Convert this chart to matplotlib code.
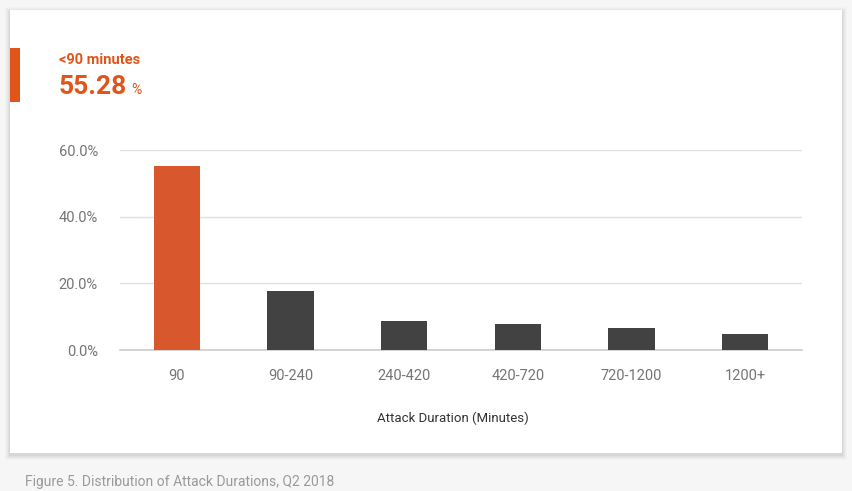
import numpy as np
import matplotlib.pyplot as plt
from matplotlib.patches import Rectangle

# values
categories = ["90", "90-240", "240-420", "420-720", "720-1200", "1200+"]
shares = [55.28, 17.6, 8.8, 7.9, 6.6, 4.9]
y_ticks = [0, 20, 40, 60]
y_tick_labels = ["0.0%", "20.0%", "40.0%", "60.0%"]

orange = "#d9572c"
dark = "#424242"
accent = "#e0561a"

plt.rcParams['font.family'] = ['Roboto', 'DejaVu Sans']

W, H = 853, 491
fig = plt.figure(figsize=(W / 100, H / 100), dpi=100)
fig.patch.set_facecolor("#f6f6f6")

# card with soft shadow
bg = fig.add_axes([0, 0, 1, 1])
bg.set_xlim(0, W)
bg.set_ylim(H, 0)
bg.axis('off')
for i, a in enumerate([0.03, 0.03, 0.025, 0.02, 0.015]):
    d = 2 + i * 2
    bg.add_patch(Rectangle((10 - d / 2, 10 + 2 - d / 2), 832 + d, 443 + d,
                           facecolor="black", alpha=a, lw=0))
bg.add_patch(Rectangle((10, 10), 832, 443, facecolor="white", lw=0))
bg.add_patch(Rectangle((10, 48), 10, 54, facecolor=accent, lw=0))

bg.text(59, 60, "<90 minutes", color=accent, fontsize=10.5, fontweight='bold',
        va='center', ha='left')
bg.text(59, 87, "55.28", color=accent, fontsize=19, fontweight='bold',
        va='center', ha='left')
bg.text(131, 90, "%", color=accent, fontsize=10, va='center', ha='left')
bg.text(25, 482, "Figure 5. Distribution of Attack Durations, Q2 2018",
        color="#9a9a9a", fontsize=10, va='center', ha='left')

# bar chart
ax = fig.add_axes([120 / W, 1 - 350 / H, 682 / W, 200 / H])
x = np.arange(len(categories))
colors = [orange] + [dark] * (len(categories) - 1)
ax.bar(x, shares, width=0.41, color=colors, zorder=3)
ax.set_xlim(-0.5, len(categories) - 0.5)
ax.set_ylim(0, 60)
ax.set_yticks(y_ticks)
ax.set_yticklabels(y_tick_labels)
ax.set_xticks(x)
ax.set_xticklabels(categories)
ax.grid(axis='y', color="#e0e0e0", lw=1, zorder=0)
for s in ['top', 'right', 'left']:
    ax.spines[s].set_visible(False)
ax.spines['bottom'].set_color("#cccccc")
ax.spines['bottom'].set_linewidth(1.2)
ax.tick_params(axis='both', length=0, colors="#757575", labelsize=10.5)
ax.tick_params(axis='y', pad=16)
ax.tick_params(axis='x', pad=14)
ax.set_xlabel("Attack Duration (Minutes)", color="#333333", fontsize=9.5,
              labelpad=16)
ax.xaxis.set_label_coords(0.488, -0.31)
ax.set_facecolor("none")

fig.savefig("out.png", dpi=100)
